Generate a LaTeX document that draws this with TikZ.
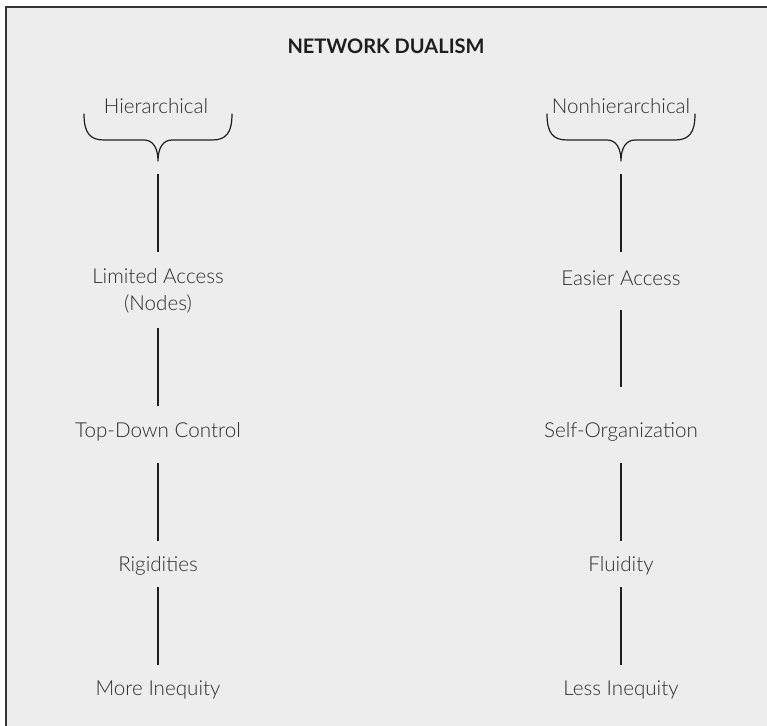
\documentclass[tikz,border=0pt]{standalone}
\usepackage{fontspec}
\IfFontExistsTF{Lato Light}
  {\setmainfont{Lato}[UprightFont=* Light, BoldFont=* Bold]}
  {\setmainfont{Lato}}
\definecolor{panel}{HTML}{EDEDED}
\definecolor{ink}{HTML}{2C2C2C}
\definecolor{rule}{HTML}{1E1E1E}
\tikzset{
  label/.style={text=ink, font=\fontsize{20.6}{26.5}\selectfont, align=center, inner sep=0pt},
  heading/.style={text=rule, font=\fontsize{20}{22}\selectfont\bfseries, inner sep=0pt},
  link/.style={draw=rule, line width=1.2pt},
  bracepen/.style={draw=rule, line width=1.2pt, line cap=round, line join=round},
  cbrace/.pic={
    \draw[bracepen] (-74,-47) .. controls (-74,-28) and (-68,-21) .. (-54,-21)
      -- (-14,-21) .. controls (-5,-21) and (0,-13) .. (0,0)
      .. controls (0,-13) and (5,-21) .. (14,-21)
      -- (54,-21) .. controls (68,-21) and (74,-28) .. (74,-47);
  }
}
\begin{document}
\begin{tikzpicture}[x=1pt, y=-1pt]
  \clip (0,0) rectangle (767,725);
  \fill[white] (0,0) rectangle (767,725);
  % panel with its frame (right and bottom edges run off the page)
  \draw[fill=panel, draw=rule!90, line width=1.6pt] (6,7) rectangle (790,750);

  \node[heading] (title) at (386,46) {NETWORK DUALISM};

  % left column
  \node[label] (hier) at (156,106) {Hierarchical};
  \pic at (158,161) {cbrace};
  \coordinate (tipL) at (158,161);
  \node[label] (lim) at (158,291) {Limited Access\\(Nodes)};
  \node[label] (tdc) at (158,432) {Top-Down Control};
  \node[label] (rig) at (158,566) {Rigidities};
  \node[label] (more) at (158,690) {More Inequity};

  % right column
  \node[label] (nonh) at (621,106) {Nonhierarchical};
  \pic at (621,161) {cbrace};
  \coordinate (tipR) at (621,161);
  \node[label] (eas) at (621,278) {Easier Access};
  \node[label] (self) at (621,432) {Self-Organization};
  \node[label] (flu) at (621,566) {Fluidity};
  \node[label] (less) at (621,690) {Less Inequity};

  % connectors
  \draw[link, shorten <=13pt, shorten >=39pt] (tipL) -- (lim.center);
  \draw[link, shorten <=37pt, shorten >=26pt] (lim.center) -- (tdc.center);
  \draw[link, shorten <=31pt, shorten >=25pt] (tdc.center) -- (rig.center);
  \draw[link, shorten <=21pt, shorten >=25pt] (rig.center) -- (more.center);

  \draw[link, shorten <=13pt, shorten >=26pt] (tipR) -- (eas.center);
  \draw[link, shorten <=32pt, shorten >=45pt] (eas.center) -- (self.center);
  \draw[link, shorten <=31pt, shorten >=25pt] (self.center) -- (flu.center);
  \draw[link, shorten <=21pt, shorten >=25pt] (flu.center) -- (less.center);
\end{tikzpicture}
\end{document}
